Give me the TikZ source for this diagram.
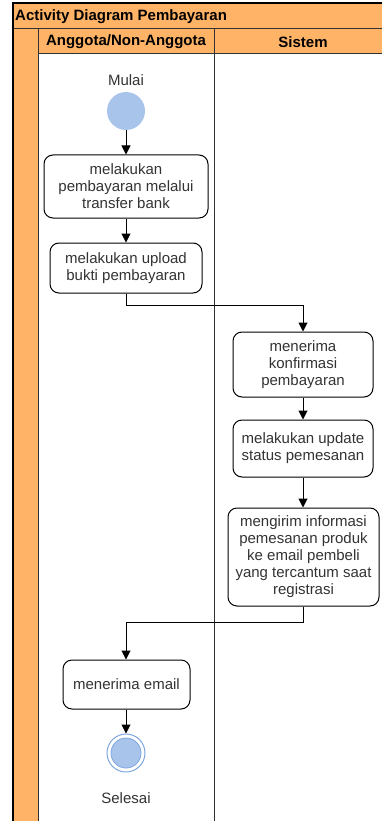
\documentclass[tikz,border=0pt]{standalone}
\usepackage{fontspec}
\setmainfont{Liberation Sans}
\usetikzlibrary{arrows.meta}
\definecolor{laneorange}{HTML}{FFB366}
\definecolor{nodeblue}{HTML}{A9C4EB}
\definecolor{nodeline}{HTML}{7EA6E0}
\definecolor{textgray}{HTML}{333333}
\begin{document}
\begin{tikzpicture}[x=1pt,y=-1pt,
  action/.style={draw=black, line width=1pt, rounded corners=9pt, fill=white,
    align=center, text=textgray, font=\fontsize{15}{17}\selectfont, inner sep=0pt},
  flow/.style={-{Triangle[length=9pt,width=9pt]}, line width=1pt},
  frameline/.style={draw=black, line width=1.4pt},
  laneline/.style={draw=textgray, line width=1pt},
  lanetitle/.style={font=\bfseries\fontsize{15}{17}\selectfont, text=black, inner sep=0pt},
  caption/.style={font=\fontsize{15}{17}\selectfont, text=textgray, inner sep=0pt},
  ]
\useasboundingbox (0,0) rectangle (382,821);
\begin{scope}
  \clip (0,0) rectangle (382,821);
  % swimlane pool: title bar, side band and lane headers
  \fill[laneorange] (13,3) rectangle (392,54);
  \fill[laneorange] (13,3) rectangle (38,830);
  \fill[white] (38,54) rectangle (392,830);
  \draw[laneline] (13,29) -- (392,29);
  \draw[laneline] (38,29) -- (38,830);
  \draw[laneline] (38,54) -- (392,54);
  \draw[laneline] (214,29) -- (214,830);
  \draw[frameline] (13,3) rectangle (392,830);
\end{scope}

\node[lanetitle, anchor=west] (pool) at (15,17) {Activity Diagram Pembayaran};
\node[lanetitle] (laneA) at (126,42) {Anggota/Non-Anggota};
\node[lanetitle] (laneB) at (303,42) {Sistem};

% activities
\node[caption] (mulai) at (126,80) {Mulai};
\node[circle, fill=nodeblue, minimum size=38pt, inner sep=0pt] (start) at (126,111) {};

\node[action, minimum width=164pt, minimum height=63pt] (bayar) at (126,186.5)
  {melakukan\\pembayaran melalui\\transfer bank};
\node[action, minimum width=152pt, minimum height=50pt] (upload) at (126,268)
  {melakukan upload\\bukti pembayaran};
\node[action, minimum width=140pt, minimum height=65pt] (konfirm) at (303,364.5)
  {menerima\\konfirmasi\\pembayaran};
\node[action, minimum width=140pt, minimum height=57pt] (update) at (303,448.5)
  {melakukan update\\status pemesanan};
\node[action, minimum width=151pt, minimum height=98pt] (kirim) at (303.5,557)
  {mengirim informasi\\pemesanan produk\\ke email pembeli\\yang tercantum saat\\registrasi};
\node[action, minimum width=127pt, minimum height=49pt] (email) at (126.5,684.5)
  {menerima email};

\node[circle, draw=nodeline, line width=1pt, fill=white, minimum size=38pt, inner sep=0pt] (end) at (126,753) {};
\node[circle, draw=nodeline, line width=0.8pt, fill=nodeblue, minimum size=30pt, inner sep=0pt] (endcore) at (end) {};
\node[caption] (selesai) at (126,798) {Selesai};

% control flow
\coordinate (bend1) at (126,305);
\coordinate (bend2) at (303,305);
\coordinate (bend3) at (303,622);
\coordinate (bend4) at (126,622);
\draw[flow] (start) -- (bayar);
\draw[flow] (bayar) -- (upload);
\draw[flow] (upload.south) -- (bend1) -- (bend2) -- (konfirm.north -| bend2);
\draw[flow] (konfirm) -- (update);
\draw[flow] (update.south -| bend2) -- (kirim.north -| bend2);
\draw[flow] (kirim.south -| bend3) -- (bend3) -- (bend4) -- (email.north -| bend4);
\draw[flow] (email.south -| end) -- (end);
\end{tikzpicture}
\end{document}
